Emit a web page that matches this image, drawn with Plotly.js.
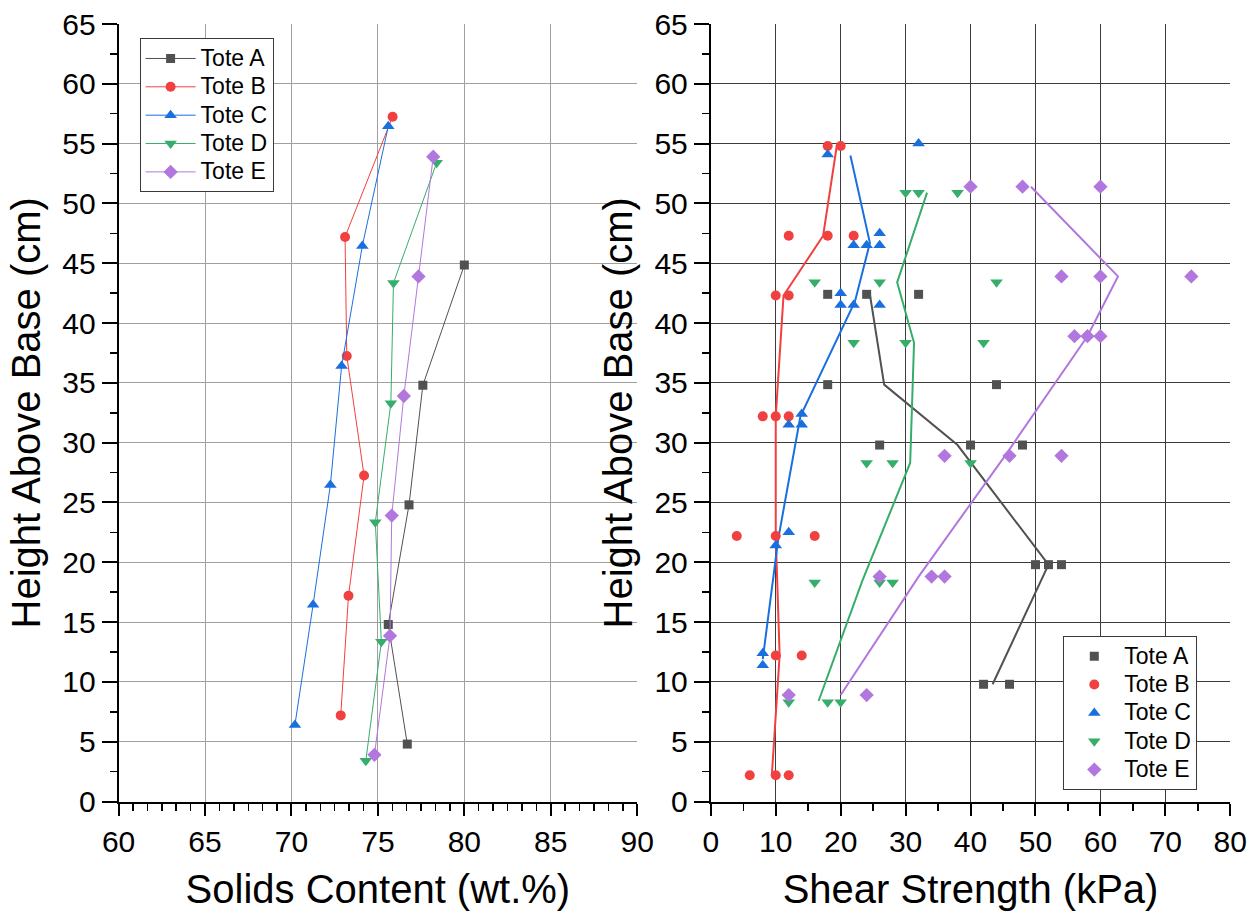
<!DOCTYPE html>
<html>
<head>
<meta charset="utf-8">
<script src="https://cdn.plot.ly/plotly-3.0.1.min.js"></script>
<style>
  html, body { margin: 0; padding: 0; background: #ffffff; }
  #chart { width: 1257px; height: 922px; }
</style>
</head>
<body>
<div id="chart"></div>
<script>
// Tote identity
const toteNames   = ['Tote A', 'Tote B', 'Tote C', 'Tote D', 'Tote E'];
const toteColors  = ['#515151', '#F14040', '#1A6FDF', '#37AD6B', '#B177DE'];
const toteSymbols = ['square', 'circle', 'triangle-up', 'triangle-down', 'diamond'];

// Solids content (wt.%) against height above base (cm)
const solidsA_h = [4.8, 14.8, 24.8, 34.8, 44.85];
const solidsA_x = [76.7, 75.6, 76.8, 77.6, 80.0];
const solidsB_h = [7.2, 17.2, 27.25, 37.25, 47.2, 57.25];
const solidsB_x = [72.85, 73.3, 74.2, 73.2, 73.1, 75.85];
const solidsC_h = [6.4, 16.45, 26.45, 36.4, 46.45, 56.45];
const solidsC_x = [70.2, 71.25, 72.25, 72.9, 74.1, 75.6];
const solidsD_h = [3.4, 13.35, 23.35, 33.3, 43.35, 53.4];
const solidsD_x = [74.3, 75.2, 74.85, 75.75, 75.9, 78.4];
const solidsE_h = [3.9, 13.85, 23.9, 33.9, 43.9, 53.9];
const solidsE_x = [74.8, 75.7, 75.8, 76.5, 77.35, 78.2];

// Shear strength readings (kPa) at each sampling height (cm)
const shearA_x = [18, 24, 32, 18, 44, 26, 40, 48, 50, 52, 54, 42, 46];
const shearA_h = [42.4, 42.4, 42.4, 34.85, 34.85, 29.8, 29.8, 29.8, 19.8, 19.8, 19.8, 9.8, 9.8];
const shearB_x = [18, 20, 12, 18, 22, 10, 12, 8, 10, 12, 4, 10, 16, 10, 14, 6, 10, 12];
const shearB_h = [54.8, 54.8, 47.3, 47.3, 47.3, 42.3, 42.3, 32.2, 32.2, 32.2, 22.2, 22.2, 22.2, 12.2, 12.2, 2.2, 2.2, 2.2];
const shearC_x = [18, 32, 26, 22, 24, 26, 20, 20, 22, 26, 14, 12, 14, 12, 10, 8, 8];
const shearC_h = [54.1, 55.0, 47.5, 46.5, 46.5, 46.5, 42.5, 41.5, 41.5, 41.5, 32.4, 31.5, 31.5, 22.5, 21.4, 12.4, 11.4];
const shearD_x = [30, 32, 38, 16, 26, 44, 22, 30, 42, 24, 28, 40, 16, 26, 28, 12, 18, 20];
const shearD_h = [50.9, 50.9, 50.9, 43.4, 43.4, 43.4, 38.35, 38.35, 38.35, 28.3, 28.3, 28.3, 18.3, 18.3, 18.3, 8.3, 8.3, 8.3];
const shearE_x = [40, 48, 60, 54, 60, 74, 56, 58, 60, 36, 46, 54, 26, 34, 36, 12, 24];
const shearE_h = [51.4, 51.4, 51.4, 43.9, 43.9, 43.9, 38.9, 38.9, 38.9, 28.9, 28.9, 28.9, 18.8, 18.8, 18.8, 8.9, 8.9];

// Average shear strength profile for each tote
const avgA_x = [24.5, 26.7, 38, 52, 43.4];
const avgA_h = [42.4, 34.85, 29.8, 19.8, 9.8];
const avgB_x = [19.4, 17.3, 11.2, 10, 10, 10.6, 9.4];
const avgB_h = [54.8, 47.3, 42.3, 32.2, 22.2, 12.2, 2.2];
const avgC_x = [21.5, 24.5, 22.2, 13.8, 10.4, 8];
const avgC_h = [54.0, 46.7, 41.8, 32.2, 22.0, 11.9];
const avgD_x = [33.3, 28.7, 31.3, 30.7, 23.3, 16.6];
const avgD_h = [50.9, 43.4, 38.35, 28.3, 18.4, 8.4];
const avgE_x = [49.3, 62.7, 58, 45.3, 32, 20];
const avgE_h = [51.4, 43.9, 38.9, 28.9, 18.8, 8.9];

// Axis tick values
const solidsTicks = [60, 65, 70, 75, 80, 85, 90];
const shearTicks  = [0, 10, 20, 30, 40, 50, 60, 70, 80];
const heightTicks = [0, 5, 10, 15, 20, 25, 30, 35, 40, 45, 50, 55, 60, 65];

const solids = [[solidsA_x, solidsA_h], [solidsB_x, solidsB_h], [solidsC_x, solidsC_h], [solidsD_x, solidsD_h], [solidsE_x, solidsE_h]];
const shear  = [[shearA_x, shearA_h], [shearB_x, shearB_h], [shearC_x, shearC_h], [shearD_x, shearD_h], [shearE_x, shearE_h]];
const avgs   = [[avgA_x, avgA_h], [avgB_x, avgB_h], [avgC_x, avgC_h], [avgD_x, avgD_h], [avgE_x, avgE_h]];

const markerSize = [9, 10, 11, 11, 11];
// legend labels are set a little larger than the row spacing font
const legendLabel = name => '<span style="font-size:23px">' + name + '</span>';

const traces = [];
solids.forEach(([x, h], i) => {
  traces.push({
    type: 'scatter', mode: 'lines+markers', x: x, y: h,
    xaxis: 'x', yaxis: 'y', name: legendLabel(toteNames[i]), legend: 'legend',
    line: { color: toteColors[i], width: 1 },
    marker: { color: toteColors[i], symbol: toteSymbols[i], size: markerSize[i] },
    cliponaxis: false
  });
});
avgs.forEach(([x, h], i) => {
  traces.push({
    type: 'scatter', mode: 'lines', x: x, y: h,
    xaxis: 'x2', yaxis: 'y2', showlegend: false, hoverinfo: 'skip',
    line: { color: toteColors[i], width: 2 }
  });
});
shear.forEach(([x, h], i) => {
  traces.push({
    type: 'scatter', mode: 'markers', x: x, y: h,
    xaxis: 'x2', yaxis: 'y2', name: legendLabel(toteNames[i]), legend: 'legend2',
    marker: { color: toteColors[i], symbol: toteSymbols[i], size: markerSize[i] },
    cliponaxis: false
  });
});

const W = 1257, H = 922;
const plotTop = 24, plotBottom = 801.5;
const yDomain = [1 - plotBottom / H, 1 - plotTop / H];
const FONT = '"Liberation Sans", Arial, sans-serif';

function xAxis(domain, range, ticks, minorStep, titleText, anchor, gridcolor) {
  return {
    domain: domain, range: range, anchor: anchor,
    tickmode: 'array', tickvals: ticks, ticktext: ticks.map(String),
    ticks: 'outside', ticklen: 12, tickwidth: 2, tickcolor: '#000',
    showline: true, linecolor: '#000', linewidth: 2, zeroline: false,
    showgrid: true, gridcolor: gridcolor, gridwidth: 1,
    minor: { dtick: minorStep, tick0: range[0], ticks: 'outside', ticklen: 7, tickwidth: 1.5, tickcolor: '#000', showgrid: false },
    tickfont: { family: FONT, size: 30, color: '#000' },
    title: { text: titleText, font: { family: FONT, size: 40, color: '#000' }, standoff: 18 },
    automargin: false, fixedrange: true
  };
}
function yAxis(anchor, gridcolor) {
  return {
    domain: yDomain, range: [0, 65], anchor: anchor,
    tickmode: 'array', tickvals: heightTicks, ticktext: heightTicks.map(String),
    ticks: 'outside', ticklen: 15, tickwidth: 2, tickcolor: '#000',
    showline: true, linecolor: '#000', linewidth: 2, zeroline: false,
    showgrid: true, gridcolor: gridcolor, gridwidth: 1,
    minor: { dtick: 2.5, tick0: 0, ticks: 'outside', ticklen: 7, tickwidth: 1.5, tickcolor: '#000', showgrid: false },
    tickfont: { family: FONT, size: 30, color: '#000' },
    title: { text: 'Height Above Base (cm)', font: { family: FONT, size: 40, color: '#000' }, standoff: 9 },
    automargin: false, fixedrange: true
  };
}

const legendBase = {
  xanchor: 'left', yanchor: 'top', bgcolor: '#ffffff',
  bordercolor: '#3a3a3a', borderwidth: 1,
  font: { family: FONT, size: 19.5, color: '#000' },
  itemwidth: 50, tracegroupgap: 0
};

const layout = {
  width: W, height: H,
  margin: { l: 0, r: 0, t: 0, b: 0 },
  paper_bgcolor: '#ffffff', plot_bgcolor: '#ffffff',
  font: { family: FONT, color: '#000' },
  showlegend: true,
  xaxis:  xAxis([118.6 / W, 637.2 / W], [60, 90], solidsTicks, 5 / 6, 'Solids Content (wt.%)', 'y', '#a0a0a0'),
  yaxis:  yAxis('x', '#a0a0a0'),
  xaxis2: xAxis([710.8 / W, 1230.3 / W], [0, 80], shearTicks, 5, 'Shear Strength (kPa)', 'y2', '#3c3c3c'),
  yaxis2: yAxis('x2', '#3c3c3c'),
  legend:  Object.assign({}, legendBase, { x: 139.6 / W, y: 1 - 38.3 / H }),
  legend2: Object.assign({}, legendBase, { x: 1063.3 / W, y: 1 - 636 / H })
};

Plotly.newPlot('chart', traces, layout, { displayModeBar: false, staticPlot: true });
</script>
</body>
</html>
